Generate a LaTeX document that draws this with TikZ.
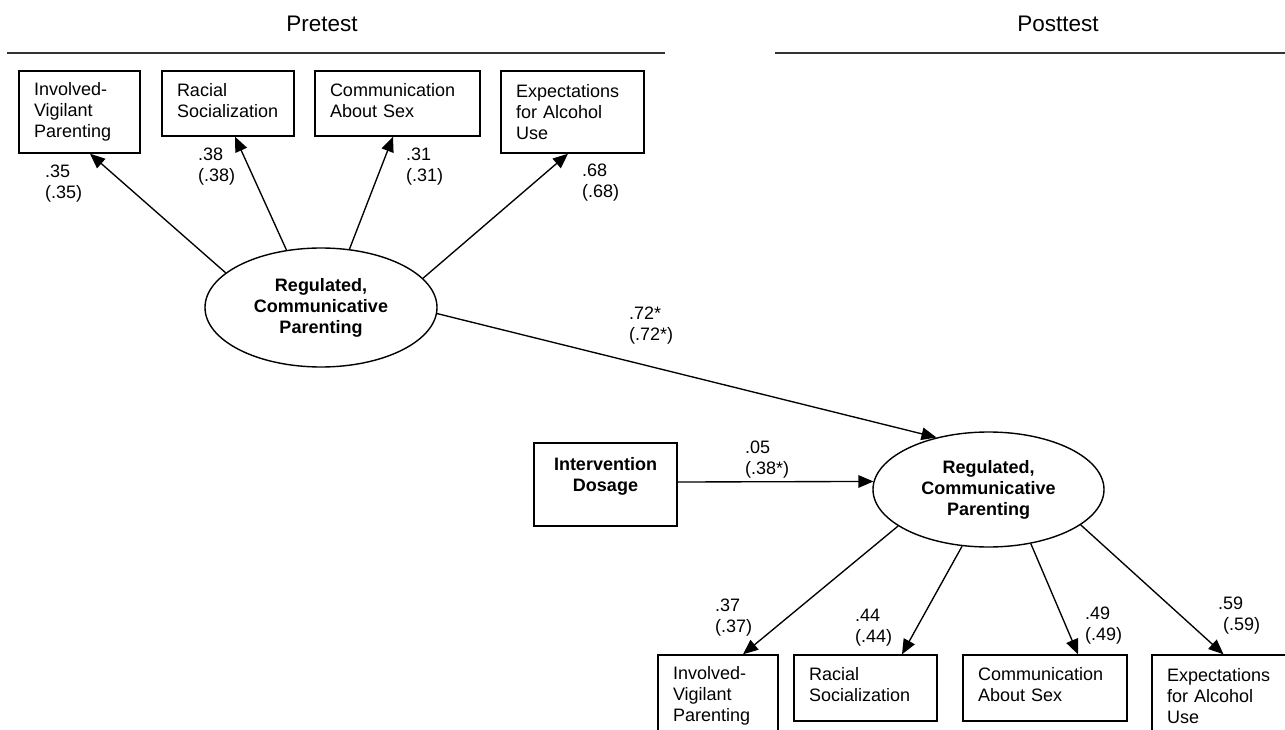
\documentclass[tikz,border=0pt]{standalone}
\usepackage{fontspec}
\setmainfont{Liberation Sans}
\usetikzlibrary{arrows.meta,shapes.geometric}
\hyphenpenalty=10000
\exhyphenpenalty=10000
\begin{document}
\begin{tikzpicture}[x=1pt,y=-1pt,
  txt/.style={font=\fontsize{18}{21}\selectfont},
  hdr/.style={font=\fontsize{22.5}{26}\selectfont, inner sep=0pt},
  rule/.style={line width=1.5pt, black!80},
  obs/.style={txt, draw, rectangle, line width=1.4pt, inner xsep=15pt, inner ysep=0pt, align=left},
  lat/.style={txt, font=\fontsize{18}{21}\selectfont\bfseries, draw, ellipse, line width=1.4pt, inner sep=0pt, align=center, minimum width=232pt},
  path/.style={line width=1.35pt, -{Triangle[length=15pt,width=12.5pt]}},
  coef/.style={txt, align=left, anchor=west, inner sep=0pt}]
\clip (0,0) rectangle (1285,730);
\useasboundingbox (0,0) rectangle (1285,730);
\fill[white] (0,0) rectangle (1285,730);

% headers
\node[hdr, anchor=base] (pre) at (322,31.5) {Pretest};
\node[hdr, anchor=base] (post) at (1058,31.5) {Posttest};
\coordinate (p1) at (7,53);
\coordinate (p2) at (665,53);
\coordinate (q1) at (775,53);
\coordinate (q2) at (1285,53);
\draw[rule] (p1) -- (p2);
\draw[rule] (q1) -- (q2);

% pretest indicators
\node[obs, text width=91pt, minimum height=82pt] (b1) at (79.5,112) {Involved-\\Vigilant\\Parenting};
\node[obs, text width=102pt, minimum height=65pt] (b2) at (228,103.5) {Racial\\Socialization\strut};
\node[obs, text width=135pt, minimum height=65pt] (b3) at (397.5,103.5) {Communication\\About Sex\strut};
\node[obs, text width=113pt, minimum height=82pt] (b4) at (572.5,112) {Expectations\\for Alcohol\\Use};

% latent variables
\node[lat, minimum height=119pt] (e1) at (321,307.5) {Regulated,\\Communicative\\Parenting};
\node[lat, minimum width=231pt, minimum height=115pt] (e2) at (988.5,489.5) {Regulated,\\Communicative\\Parenting};

% intervention
\node[obs, font=\fontsize{18}{21}\selectfont\bfseries, align=center, text width=113pt, minimum height=83pt] (iv) at (605.5,484.5) {Intervention\\Dosage\\\mbox{}};

% posttest indicators
\node[obs, text width=90pt, minimum height=82pt] (b5) at (718,696) {Involved-\\Vigilant\\Parenting};
\node[obs, text width=113pt, minimum height=66pt] (b6) at (865.5,688) {Racial\\Socialization\strut};
\node[obs, text width=134pt, minimum height=66pt] (b7) at (1045,688) {Communication\\About Sex\strut};
\node[obs, text width=113pt, minimum height=82pt] (b8) at (1223.5,696) {Expectations\\for Alcohol\\Use};

% connectors
\draw[path] (e1.160.2) -- ([xshift=10.5pt]b1.south);
\draw[path] (e1.121.5) -- ([xshift=7pt]b2.south);
\draw[path] (e1.64) -- ([xshift=-4.5pt]b3.south);
\draw[path] (e1.16.2) -- ([xshift=-4.5pt]b4.south);
\draw[path] (e1.-3.2) -- (e2.135);
\draw[path] ([yshift=2.5pt]iv.east) -- (e2.176);
\draw[path] (e2.202.3) -- ([xshift=25pt]b5.north);
\draw[path] (e2.245.3) -- ([xshift=36.5pt]b6.north);
\draw[path] (e2.308.1) -- ([xshift=33pt]b7.north);
\draw[path] (e2.339.3) -- (b8.north);

% coefficients
\node[coef] (c1) at (45,183.5) {.35\\(.35)};
\node[coef] (c2) at (198,166.5) {.38\\(.38)};
\node[coef] (c3) at (406,166.5) {.31\\(.31)};
\node[coef] (c4) at (582,182.5) {.68\\(.68)};
\node[coef] (c5) at (629,325.5) {.72*\\(.72*)};
\node[coef] (c6) at (745,459.5) {.05\\(.38*)};
\node[coef] (c7) at (715,617.5) {.37\\(.37)};
\node[coef] (c8) at (855,627.5) {.44\\(.44)};
\node[coef] (c9) at (1085,625.5) {.49\\(.49)};
\node[coef] (c10) at (1218,615.5) {.59\\\hspace*{5pt}(.59)};
\end{tikzpicture}
\end{document}
